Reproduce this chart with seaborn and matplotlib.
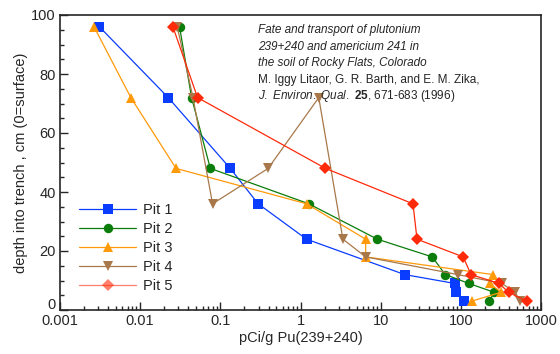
import pandas as pd
import numpy as np
import matplotlib
matplotlib.use("Agg")
import matplotlib.pyplot as plt
import matplotlib.ticker as mticker
import matplotlib.transforms as mtransforms
import seaborn as sns

# depths (cm) and Pu concentrations (pCi/g)
pit1_depth = [96, 72, 48, 36, 24, 12, 9, 6, 3]
pit1_conc = [0.0031, 0.0224, 0.133, 0.296, 1.19, 20, 84, 87, 108]

pit2_depth = [96, 72, 48, 36, 24, 18, 12, 9, 6, 3]
pit2_conc = [0.031, 0.0438, 0.075, 1.27, 9.1, 44, 64, 126, 261, 226]

pit3_depth = [96, 72, 48, 36, 24, 18, 12, 9, 6, 3]
pit3_conc = [0.00266, 0.00765, 0.028, 1.19, 6.5, 6.5, 254, 230, 316, 137]

pit4_depth = [96, 72, 36, 48, 72, 24, 18, 12, 9, 6, 3]
pit4_conc = [0.029, 0.0456, 0.080, 0.395, 1.69, 3.38, 6.5, 92, 325, 477, 547]

pit5_depth = [96, 72, 48, 36, 24, 18, 12, 9, 6, 3]
pit5_conc = [0.0256, 0.052, 2.05, 25.3, 28.4, 107, 134, 301, 394, 663]

x_ticks = [0.001, 0.01, 0.1, 1, 10, 100, 1000]
x_labels = ["0.001", "0.01", "0.1", "1", "10", "100", "1000"]
y_ticks = [0, 20, 40, 60, 80, 100]

pits = ["Pit 1", "Pit 2", "Pit 3", "Pit 4", "Pit 5"]
depths = [pit1_depth, pit2_depth, pit3_depth, pit4_depth, pit5_depth]
concs = [pit1_conc, pit2_conc, pit3_conc, pit4_conc, pit5_conc]

colors = {"Pit 1": "#0a3cff", "Pit 2": "#0a7d0a", "Pit 3": "#ff9a0a",
          "Pit 4": "#a8784a", "Pit 5": "#ff2a0a"}
markers = {"Pit 1": "s", "Pit 2": "o", "Pit 3": "^", "Pit 4": "v", "Pit 5": "D"}

rows = []
for name, d, c in zip(pits, depths, concs):
    for i, (dd, cc) in enumerate(zip(d, c)):
        rows.append({"pit": name, "order": i, "depth": dd, "conc": cc})
df = pd.DataFrame(rows)

sns.set_style("ticks")
plt.rcParams["font.family"] = ["Liberation Sans", "DejaVu Sans"]
plt.rcParams["mathtext.fontset"] = "custom"
plt.rcParams["mathtext.rm"] = "Liberation Sans"
plt.rcParams["mathtext.it"] = "Liberation Sans:italic"
plt.rcParams["mathtext.bf"] = "Liberation Sans:bold"

fig = plt.figure(figsize=(5.6, 3.54), dpi=100)
ax = fig.add_axes([60 / 560, 1 - 310 / 354, 481 / 560, 295 / 354])

sns.lineplot(data=df, x="conc", y="depth", hue="pit", style="pit",
             markers=markers, dashes=False, palette=colors, sort=False,
             estimator=None, units="pit", linewidth=0.9, markersize=6.8,
             markeredgewidth=0, ax=ax)

for line in ax.get_lines():
    if line.get_marker() == "D":
        line.set_markersize(5.8)

ax.set_xscale("log")
ax.set_xlim(0.001, 1000)
ax.set_ylim(0, 100)
ax.xaxis.set_major_locator(mticker.FixedLocator(x_ticks))
ax.xaxis.set_major_formatter(mticker.FixedFormatter(x_labels))
ax.xaxis.set_minor_locator(mticker.LogLocator(base=10, subs=np.arange(2, 10), numticks=20))
ax.xaxis.set_minor_formatter(mticker.NullFormatter())
ax.yaxis.set_major_locator(mticker.FixedLocator(y_ticks))
ax.yaxis.set_minor_locator(mticker.MultipleLocator(5))

ax.tick_params(which="both", direction="in", top=False, right=False, labelsize=10.5, width=1)
ax.tick_params(which="major", length=6, pad=3)
ax.tick_params(which="minor", length=3)
for s in ax.spines.values():
    s.set_linewidth(1.2)
    s.set_visible(True)

# the "0" label sits a little above its tick, as in the original
zero_lab = ax.yaxis.get_major_ticks()[0].label1
zero_lab.set_transform(zero_lab.get_transform() +
                       mtransforms.ScaledTranslation(0, 5 / 72, fig.dpi_scale_trans))

ax.set_xlabel("pCi/g Pu(239+240)", fontsize=10.5, labelpad=2)
ax.set_ylabel("depth into trench , cm (0=surface)", fontsize=10.5, labelpad=2)

leg = ax.legend(loc="center left", bbox_to_anchor=(0.025, 0.21), frameon=False,
                fontsize=10.5, handlelength=3.9, handletextpad=0.5,
                labelspacing=0.35, borderpad=0)
for h in leg.legend_handles:
    h.set_markeredgewidth(0)
leg.legend_handles[4].set_alpha(0.6)

tx = (258 - 60) / 480
lines = [("Fate and transport of plutonium", "italic"),
         ("239+240 and americium 241 in", "italic"),
         ("the soil of Rocky Flats, Colorado", "italic"),
         ("M. Iggy Litaor, G. R. Barth, and E. M. Zika,", "normal"),
         (r"$\it{J.\ Environ.\ Qual.}$ $\bf{25}$, 671-683 (1996)", "normal")]
ys = [30, 46.5, 63, 79.5, 96]
for (t, st), yy in zip(lines, ys):
    ax.text(tx, (310 - yy) / 295, t, transform=ax.transAxes, fontsize=8.5,
            style=st, va="center", ha="left")

fig.savefig("out.png", dpi=100)
